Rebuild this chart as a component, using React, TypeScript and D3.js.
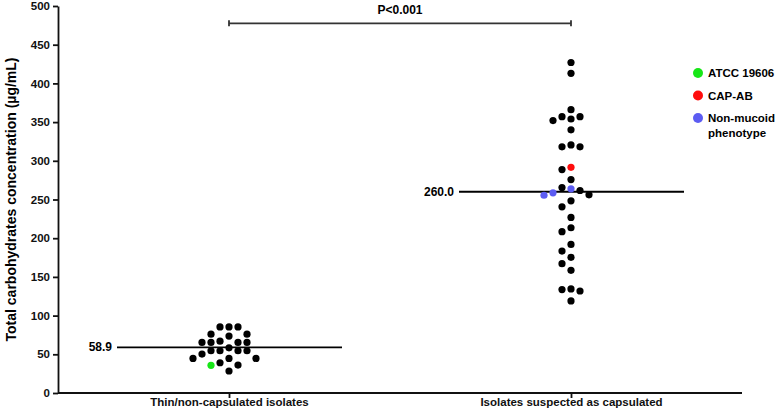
import React, { useRef, useEffect } from "react";
import * as d3 from "d3";

// categories
const categories = ["Thin/non-capsulated isolates", "Isolates suspected as capsulated"];
const medians = [58.9, 260.0];

// thin / non-capsulated group
const thinValues = [85.4, 85.4, 85.4, 76, 76, 73.5, 67, 65.3, 65.3, 65.3, 65.3, 58.4, 54.6, 54.6, 54.6, 54.6, 50.3, 44.7, 44.7, 44.7, 39.1, 36.1, 28.4];
const atccValues = [35.8];

// suspected capsulated group
const capsValues = [427, 413, 366, 357, 357, 354, 352, 340, 320.5, 318, 318, 288.7, 275.8, 265.5, 261.6, 256, 248.3, 240.6, 226.8, 213.5, 208.4, 192, 183.4, 175.3, 167.1, 158.5, 134.4, 133.6, 131.8, 119];
const capAbValues = [291.6];
const nonMucoidValues = [263.8, 258.6, 255.5];

const yTicks = [0, 50, 100, 150, 200, 250, 300, 350, 400, 450, 500];

const legendItems = [
  { label: ["ATCC 19606"], color: "#17e617" },
  { label: ["CAP-AB"], color: "#ff0d0d" },
  { label: ["Non-mucoid", "phenotype"], color: "#5c5cf2" },
];

const FONT = "'Liberation Sans', Arial, Helvetica, sans-serif";

function App() {
  const svgRef = useRef<SVGSVGElement>(null);

  useEffect(() => {
    const w = 778;
    const h = 411;
    const svg = d3.select(svgRef.current).attr("width", w).attr("height", h);
    svg.selectAll("*").remove();

    const left = 58, right = 742, top = 6, bottom = 393;

    const yScale = d3.scaleLinear().domain([0, 500]).range([bottom, top]);
    const xScale = d3.scalePoint<string>().domain(categories).range([left, right]).padding(0.5);

    // axes
    const yAxis = d3.axisLeft(yScale).tickValues(yTicks).tickSize(5).tickSizeOuter(0).tickPadding(3);
    const gy = svg.append("g").attr("transform", `translate(${left},0)`).call(yAxis);
    gy.selectAll("path, line").attr("stroke", "#111").attr("stroke-width", 1.8);
    gy.selectAll("text").attr("font-family", FONT).attr("font-weight", "bold").attr("font-size", 11.5).attr("fill", "#111");

    const xAxis = d3.axisBottom(xScale).tickSize(5).tickSizeOuter(0).tickPadding(0);
    const gx = svg.append("g").attr("transform", `translate(0,${bottom})`).call(xAxis);
    gx.select(".domain").attr("d", `M${left},0H${right}`);
    gx.selectAll("path, line").attr("stroke", "#111").attr("stroke-width", 1.8);
    gx.selectAll("text").attr("font-family", FONT).attr("font-weight", "bold").attr("font-size", 11.5).attr("fill", "#111");

    // y title
    svg.append("text")
      .attr("transform", `translate(16,${(top + bottom) / 2}) rotate(-90)`)
      .attr("text-anchor", "middle")
      .attr("font-family", FONT).attr("font-weight", "bold").attr("font-size", 14)
      .text("Total carbohydrates concentration (\u00b5g/mL)");

    // medians
    categories.forEach((c, i) => {
      const cx = xScale(c)!;
      const y = yScale(medians[i]);
      svg.append("line")
        .attr("x1", cx - 112).attr("x2", cx + 113)
        .attr("y1", y).attr("y2", y)
        .attr("stroke", "#000").attr("stroke-width", 1.8);
      svg.append("text")
        .attr("x", cx - 117).attr("y", y + 4)
        .attr("text-anchor", "end")
        .attr("font-family", FONT).attr("font-weight", "bold").attr("font-size", 12)
        .text(medians[i].toFixed(1));
    });

    // beeswarm in slots
    const slotW = 9;
    const minGap = 8;
    const swarm = (pts: { v: number; color: string }[], cx: number) => {
      const sorted = pts.slice().sort((a, b) => b.v - a.v);
      const placed: { y: number; slot: number; color: string }[] = [];
      const order = [0, -1, 1, -2, 2, -3, 3, -4, 4];
      sorted.forEach((p) => {
        const y = yScale(p.v);
        const slot = order.find((s) => !placed.some((q) => q.slot === s && Math.abs(q.y - y) < minGap)) ?? 0;
        placed.push({ y, slot, color: p.color });
      });
      return placed.map((p) => ({ x: cx + p.slot * slotW, y: p.y, color: p.color }));
    };

    const group1 = [
      ...thinValues.map((v) => ({ v, color: "#000" })),
      ...atccValues.map((v) => ({ v, color: legendItems[0].color })),
    ];
    const group2 = [
      ...capsValues.map((v) => ({ v, color: "#000" })),
      ...capAbValues.map((v) => ({ v, color: legendItems[1].color })),
      ...nonMucoidValues.map((v) => ({ v, color: legendItems[2].color })),
    ];
    const dots = [...swarm(group1, xScale(categories[0])!), ...swarm(group2, xScale(categories[1])!)];

    svg.selectAll(".dot")
      .data(dots)
      .join("circle")
      .attr("class", "dot")
      .attr("cx", (d) => d.x)
      .attr("cy", (d) => d.y)
      .attr("r", 3.6)
      .attr("fill", (d) => d.color);

    // significance bracket
    const x1 = xScale(categories[0])!, x2 = xScale(categories[1])!;
    const by = 23.3;
    svg.append("path")
      .attr("d", `M${x1},${by - 3}V${by + 3}M${x1},${by}H${x2}M${x2},${by - 3}V${by + 3}`)
      .attr("stroke", "#333").attr("stroke-width", 1.8).attr("fill", "none");
    svg.append("text")
      .attr("x", (x1 + x2) / 2).attr("y", 13.5)
      .attr("text-anchor", "middle")
      .attr("font-family", FONT).attr("font-weight", "bold").attr("font-size", 12)
      .text("P<0.001");

    // legend
    const lg = svg.append("g").attr("transform", "translate(698,73)");
    legendItems.forEach((item, i) => {
      const g = lg.append("g").attr("transform", `translate(0,${i * 22.5})`);
      g.append("circle").attr("r", 5).attr("fill", item.color);
      item.label.forEach((l, j) => {
        g.append("text")
          .attr("x", 10).attr("y", 4 + j * 15)
          .attr("font-family", FONT).attr("font-weight", "bold").attr("font-size", 11.5)
          .text(l);
      });
    });
  }, []);

  return (
    <div style={{ position: "absolute", left: 0, top: 0, background: "#fff" }}>
      <svg ref={svgRef} style={{ display: "block" }}></svg>
    </div>
  );
}

export default App;
